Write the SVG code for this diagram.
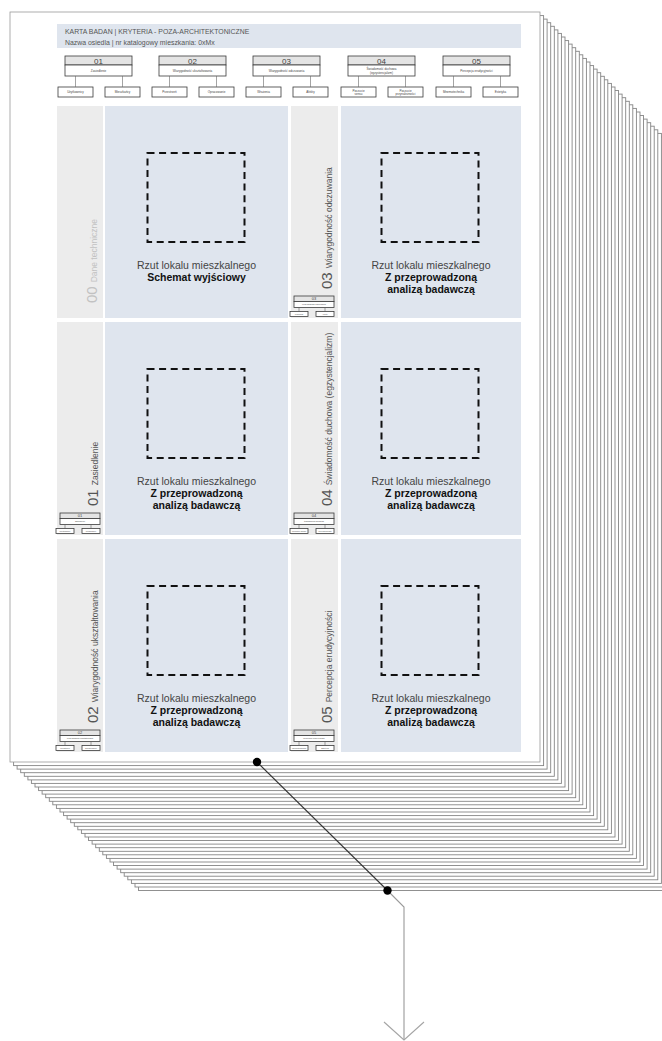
<svg xmlns="http://www.w3.org/2000/svg" xmlns:xlink="http://www.w3.org/1999/xlink" width="662" height="1041" viewBox="0 0 662 1041">
<style>
.page{fill:#fff;stroke:#858585;stroke-width:0.9}
.front{fill:#fff;stroke:#9a9a9a;stroke-width:0.8}
.band{fill:#dfe5ee}
.strip{fill:#ececec}
.plan{fill:#dfe5ee}
.sq{fill:none;stroke:#111;stroke-width:2;stroke-dasharray:7 4.6}
.f{font-family:"Liberation Sans",Arial,sans-serif}
.t1{font-size:10.5px;fill:#444;text-anchor:middle}
.t2{font-size:10.5px;fill:#111;font-weight:bold;text-anchor:middle}
.hdr{font-size:6.9px;fill:#555}
.bx{stroke:#3a3a3a;stroke-width:0.8}
.bh{fill:#e4e4e4}
.bw{fill:#fff}
.num{font-size:8px;fill:#444;text-anchor:middle}
.tt{font-size:3px;fill:#444;text-anchor:middle}
.mn{font-size:4px;fill:#444;text-anchor:middle}
.mt{font-size:2px;fill:#444;text-anchor:middle}
.tick{stroke:#666;stroke-width:0.6;fill:none}
.side{font-size:8.5px;fill:#555}
.sideg{font-size:8.5px;fill:#c2c2c2}
.big{font-size:15px}
.lnk{fill:none;stroke:#333;stroke-width:1.1}
.lnk2{fill:none;stroke:#9a9a9a;stroke-width:1.1}
</style>
<defs>
<rect id="pg" x="10" y="12" width="530" height="750"/>
<marker id="vee" markerWidth="24" markerHeight="44" refX="20" refY="22" orient="auto" markerUnits="userSpaceOnUse" viewBox="0 0 24 44">
<path d="M2,2 L20,22 L2,42" fill="none" stroke="#a5a5a5" stroke-width="1.1"/>
</marker>
</defs>

<g id="stack">
<use xlink:href="#pg" class="page" x="128.5" y="128.5"/>
<use xlink:href="#pg" class="page" x="125.0" y="125.0"/>
<use xlink:href="#pg" class="page" x="121.4" y="121.4"/>
<use xlink:href="#pg" class="page" x="117.8" y="117.8"/>
<use xlink:href="#pg" class="page" x="114.2" y="114.2"/>
<use xlink:href="#pg" class="page" x="110.7" y="110.7"/>
<use xlink:href="#pg" class="page" x="107.1" y="107.1"/>
<use xlink:href="#pg" class="page" x="103.5" y="103.5"/>
<use xlink:href="#pg" class="page" x="100.0" y="100.0"/>
<use xlink:href="#pg" class="page" x="96.4" y="96.4"/>
<use xlink:href="#pg" class="page" x="92.8" y="92.8"/>
<use xlink:href="#pg" class="page" x="89.3" y="89.3"/>
<use xlink:href="#pg" class="page" x="85.7" y="85.7"/>
<use xlink:href="#pg" class="page" x="82.1" y="82.1"/>
<use xlink:href="#pg" class="page" x="78.5" y="78.5"/>
<use xlink:href="#pg" class="page" x="75.0" y="75.0"/>
<use xlink:href="#pg" class="page" x="71.4" y="71.4"/>
<use xlink:href="#pg" class="page" x="67.8" y="67.8"/>
<use xlink:href="#pg" class="page" x="64.3" y="64.3"/>
<use xlink:href="#pg" class="page" x="60.7" y="60.7"/>
<use xlink:href="#pg" class="page" x="57.1" y="57.1"/>
<use xlink:href="#pg" class="page" x="53.6" y="53.6"/>
<use xlink:href="#pg" class="page" x="50.0" y="50.0"/>
<use xlink:href="#pg" class="page" x="46.4" y="46.4"/>
<use xlink:href="#pg" class="page" x="42.8" y="42.8"/>
<use xlink:href="#pg" class="page" x="39.3" y="39.3"/>
<use xlink:href="#pg" class="page" x="35.7" y="35.7"/>
<use xlink:href="#pg" class="page" x="32.1" y="32.1"/>
<use xlink:href="#pg" class="page" x="28.6" y="28.6"/>
<use xlink:href="#pg" class="page" x="25.0" y="25.0"/>
<use xlink:href="#pg" class="page" x="21.4" y="21.4"/>
<use xlink:href="#pg" class="page" x="17.9" y="17.9"/>
<use xlink:href="#pg" class="page" x="14.3" y="14.3"/>
<use xlink:href="#pg" class="page" x="10.7" y="10.7"/>
<use xlink:href="#pg" class="page" x="7.1" y="7.1"/>
<use xlink:href="#pg" class="page" x="3.6" y="3.6"/>
<use xlink:href="#pg" class="front" x="0" y="0"/>
</g>

<g id="header">
<rect class="band" x="57" y="24" width="464" height="24"/>
<text class="f hdr" x="65" y="33.5">KARTA BADAN  |  KRYTERIA - POZA-ARCHITEKTONICZNE</text>
<text class="f hdr" x="65" y="45">Nazwa osiedla  |  nr katalogowy mieszkania: 0xMx</text>
</g>

<g id="tree-01">
<rect class="bx bh" x="65" y="56" width="67" height="9"/>
<text class="f num" x="98.5" y="63.5">01</text>
<rect class="bx bw" x="65" y="65" width="67" height="11"/>
<text class="f tt" x="98.5" y="71.5">Zasiedlenie</text>
<rect class="bx bw" x="58" y="87" width="35" height="10"/>
<text class="f tt" x="75.5" y="93">Użytkownicy</text>
<rect class="bx bw" x="105" y="87" width="35" height="10"/>
<text class="f tt" x="122.5" y="93">Mieszkańcy</text>
</g>
<g id="tree-02">
<rect class="bx bh" x="159" y="56" width="67" height="9"/>
<text class="f num" x="192.5" y="63.5">02</text>
<rect class="bx bw" x="159" y="65" width="67" height="11"/>
<text class="f tt" x="192.5" y="71.5">Wiarygodność ukształtowania</text>
<rect class="bx bw" x="152" y="87" width="35" height="10"/>
<text class="f tt" x="169.5" y="93">Przestrzeń</text>
<rect class="bx bw" x="199" y="87" width="35" height="10"/>
<text class="f tt" x="216.5" y="93">Opracowanie</text>
</g>
<g id="tree-03">
<rect class="bx bh" x="253" y="56" width="67" height="9"/>
<text class="f num" x="286.5" y="63.5">03</text>
<rect class="bx bw" x="253" y="65" width="67" height="11"/>
<text class="f tt" x="286.5" y="71.5">Wiarygodność odczuwania</text>
<rect class="bx bw" x="246" y="87" width="35" height="10"/>
<text class="f tt" x="263.5" y="93">Wrażenia</text>
<rect class="bx bw" x="293" y="87" width="35" height="10"/>
<text class="f tt" x="310.5" y="93">Afekty</text>
</g>
<g id="tree-04">
<rect class="bx bh" x="348" y="56" width="67" height="9"/>
<text class="f num" x="381.5" y="63.5">04</text>
<rect class="bx bw" x="348" y="65" width="67" height="11"/>
<text class="f tt" x="381.5" y="70">Świadomość duchowa</text>
<text class="f tt" x="381.5" y="73.5">(egzystencjalizm)</text>
<rect class="bx bw" x="341" y="87" width="35" height="10"/>
<text class="f tt" x="358.5" y="91.5">Poczucie</text>
<text class="f tt" x="358.5" y="95">sensu</text>
<rect class="bx bw" x="388" y="87" width="35" height="10"/>
<text class="f tt" x="405.5" y="91.5">Poczucie</text>
<text class="f tt" x="405.5" y="95">przynależności</text>
</g>
<g id="tree-05">
<rect class="bx bh" x="443" y="56" width="67" height="9"/>
<text class="f num" x="476.5" y="63.5">05</text>
<rect class="bx bw" x="443" y="65" width="67" height="11"/>
<text class="f tt" x="476.5" y="71.5">Percepcja erudycyjności</text>
<rect class="bx bw" x="436" y="87" width="35" height="10"/>
<text class="f tt" x="453.5" y="93">Mnemotechnika</text>
<rect class="bx bw" x="483" y="87" width="35" height="10"/>
<text class="f tt" x="500.5" y="93">Estetyka</text>
</g>

<g id="cell-00">
<rect class="strip" x="57" y="106" width="46" height="212"/>
<rect class="plan" x="105" y="106" width="183" height="212"/>
<rect class="sq" x="147.5" y="153" width="97" height="89"/>
<text class="f t1" x="196.5" y="269">Rzut lokalu mieszkalnego</text>
<text class="f t2" x="196.5" y="281">Schemat wyjściowy</text>
<text class="f sideg" transform="translate(97,303) rotate(-90)"><tspan class="big">00</tspan><tspan dx="4">Dane techniczne</tspan></text>
</g>

<g id="cell-03">
<rect class="strip" x="291" y="106" width="47" height="212"/>
<rect class="plan" x="341" y="106" width="180" height="212"/>
<rect class="sq" x="381.5" y="153" width="97" height="89"/>
<text class="f t1" x="431" y="269">Rzut lokalu mieszkalnego</text>
<text class="f t2" x="431" y="281">Z przeprowadzoną</text>
<text class="f t2" x="431" y="293">analizą badawczą</text>
<text class="f side" transform="translate(332,289) rotate(-90)"><tspan class="big">03</tspan><tspan dx="4">Wiarygodność odczuwania</tspan></text>
<rect class="bx bh" x="294" y="296" width="40" height="5.5"/>
<text class="f mn" x="314" y="300.3">03</text>
<rect class="bx bw" x="294" y="301.5" width="40" height="6"/>
<text class="f mt" x="314" y="305.2">Wiarygodność odczuwania</text>
<rect class="bx bw" x="290" y="311.5" width="18" height="5"/>
<text class="f mt" x="299" y="314.7">Wrażenia</text>
<rect class="bx bw" x="316" y="311.5" width="18" height="5"/>
<text class="f mt" x="325" y="314.7">Afekty</text>
</g>

<g id="cell-01">
<rect class="strip" x="57" y="322" width="46" height="213"/>
<rect class="plan" x="105" y="322" width="183" height="213"/>
<rect class="sq" x="147.5" y="369" width="97" height="89"/>
<text class="f t1" x="196.5" y="485">Rzut lokalu mieszkalnego</text>
<text class="f t2" x="196.5" y="497">Z przeprowadzoną</text>
<text class="f t2" x="196.5" y="509">analizą badawczą</text>
<text class="f side" transform="translate(98,506) rotate(-90)"><tspan class="big">01</tspan><tspan dx="4">Zasiedlenie</tspan></text>
<rect class="bx bh" x="60" y="513" width="40" height="5.5"/>
<text class="f mn" x="80" y="517.3">01</text>
<rect class="bx bw" x="60" y="518.5" width="40" height="6"/>
<text class="f mt" x="80" y="522.2">Zasiedlenie</text>
<rect class="bx bw" x="56" y="528.5" width="18" height="5"/>
<text class="f mt" x="65" y="531.7">Użytkownicy</text>
<rect class="bx bw" x="82" y="528.5" width="18" height="5"/>
<text class="f mt" x="91" y="531.7">Mieszkańcy</text>
</g>

<g id="cell-04">
<rect class="strip" x="291" y="322" width="47" height="213"/>
<rect class="plan" x="341" y="322" width="180" height="213"/>
<rect class="sq" x="381.5" y="369" width="97" height="89"/>
<text class="f t1" x="431" y="485">Rzut lokalu mieszkalnego</text>
<text class="f t2" x="431" y="497">Z przeprowadzoną</text>
<text class="f t2" x="431" y="509">analizą badawczą</text>
<text class="f side" transform="translate(332,506) rotate(-90)"><tspan class="big">04</tspan><tspan dx="4">Świadomość duchowa (egzystencjalizm)</tspan></text>
<rect class="bx bh" x="294" y="513" width="40" height="5.5"/>
<text class="f mn" x="314" y="517.3">04</text>
<rect class="bx bw" x="294" y="518.5" width="40" height="6"/>
<text class="f mt" x="314" y="522.2">Świadomość duchowa</text>
<rect class="bx bw" x="290" y="528.5" width="18" height="5"/>
<text class="f mt" x="299" y="531.7">Poczucie sensu</text>
<rect class="bx bw" x="316" y="528.5" width="18" height="5"/>
<text class="f mt" x="325" y="531.7">Przynależność</text>
</g>

<g id="cell-02">
<rect class="strip" x="57" y="539" width="46" height="213"/>
<rect class="plan" x="105" y="539" width="183" height="213"/>
<rect class="sq" x="147.5" y="586" width="97" height="89"/>
<text class="f t1" x="196.5" y="702">Rzut lokalu mieszkalnego</text>
<text class="f t2" x="196.5" y="714">Z przeprowadzoną</text>
<text class="f t2" x="196.5" y="726">analizą badawczą</text>
<text class="f side" transform="translate(98,723) rotate(-90)"><tspan class="big">02</tspan><tspan dx="4">Wiarygodność ukształtowania</tspan></text>
<rect class="bx bh" x="60" y="730" width="40" height="5.5"/>
<text class="f mn" x="80" y="734.3">02</text>
<rect class="bx bw" x="60" y="735.5" width="40" height="6"/>
<text class="f mt" x="80" y="739.2">Wiarygodność ukształtowania</text>
<rect class="bx bw" x="56" y="745.5" width="18" height="5"/>
<text class="f mt" x="65" y="748.7">Przestrzeń</text>
<rect class="bx bw" x="82" y="745.5" width="18" height="5"/>
<text class="f mt" x="91" y="748.7">Opracowanie</text>
</g>

<g id="cell-05">
<rect class="strip" x="291" y="539" width="47" height="213"/>
<rect class="plan" x="341" y="539" width="180" height="213"/>
<rect class="sq" x="381.5" y="586" width="97" height="89"/>
<text class="f t1" x="431" y="702">Rzut lokalu mieszkalnego</text>
<text class="f t2" x="431" y="714">Z przeprowadzoną</text>
<text class="f t2" x="431" y="726">analizą badawczą</text>
<text class="f side" transform="translate(332,723) rotate(-90)"><tspan class="big">05</tspan><tspan dx="4">Percepcja erudycyjności</tspan></text>
<rect class="bx bh" x="294" y="730" width="40" height="5.5"/>
<text class="f mn" x="314" y="734.3">05</text>
<rect class="bx bw" x="294" y="735.5" width="40" height="6"/>
<text class="f mt" x="314" y="739.2">Percepcja erudycyjności</text>
<rect class="bx bw" x="290" y="745.5" width="18" height="5"/>
<text class="f mt" x="299" y="748.7">Mnemotechnika</text>
<rect class="bx bw" x="316" y="745.5" width="18" height="5"/>
<text class="f mt" x="325" y="748.7">Estetyka</text>
</g>

<g id="connectors">
<path class="tick" d="M75.5,76V87M122.5,76V87M169.5,76V87M216.5,76V87M263.5,76V87M310.5,76V87M358.5,76V87M405.5,76V87M453.5,76V87M500.5,76V87"/>
<path class="tick" d="M299,307.5V311.5M325,307.5V311.5M65,524.5V528.5M91,524.5V528.5M299,524.5V528.5M325,524.5V528.5M65,741.5V745.5M91,741.5V745.5M299,741.5V745.5M325,741.5V745.5"/>
<path class="lnk" d="M257,762 L387.5,890.5"/>
<path class="lnk2" d="M387.5,890.5 L404,907 L404,1040" marker-end="url(#vee)"/>
<circle cx="257" cy="762" r="4.2" fill="#000"/>
<circle cx="387.5" cy="890.5" r="4.2" fill="#000"/>
</g>
</svg>
